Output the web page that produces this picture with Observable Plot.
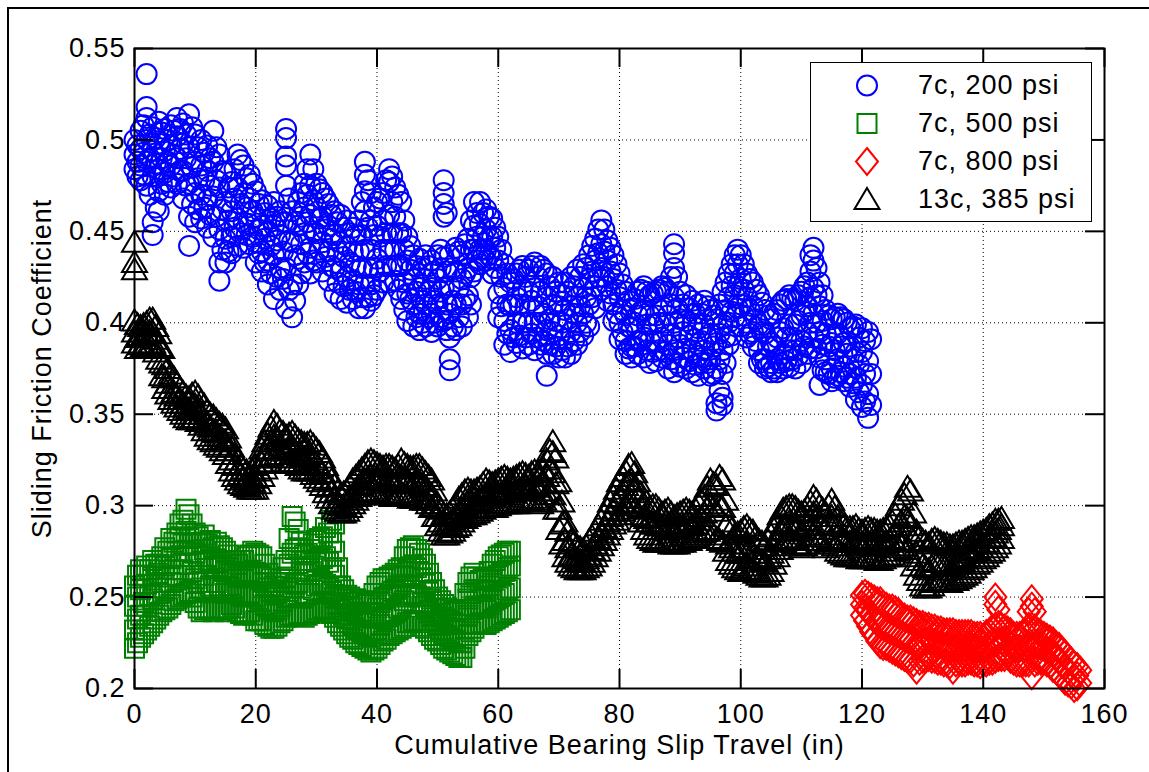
<!DOCTYPE html>
<html><head><meta charset="utf-8">
<script src="https://cdn.jsdelivr.net/npm/d3@7"></script>
<script src="https://cdn.jsdelivr.net/npm/@observablehq/plot@0.6"></script>
<style>
html,body{margin:0;padding:0;background:#fff;}
#wrap{position:relative;width:1149px;height:772px;overflow:hidden;background:#fff;}
#chart{position:absolute;left:0;top:0;}
#border{position:absolute;left:7px;top:7px;width:1300px;height:900px;border-left:2px solid #000;border-top:2px solid #000;pointer-events:none;}
#legend{position:absolute;left:810px;top:62px;border:1.5px solid #000;background:#fff;line-height:0;}
</style></head><body>
<div id="wrap"><div id="chart"></div><div id="legend"></div><div id="border"></div></div>
<script>
// ---- labels / ticks ----
const seriesNames = ["7c, 200 psi", "7c, 500 psi", "7c, 800 psi", "13c, 385 psi"];
const seriesColors = ["#0000ff", "#008000", "#ff0000", "#000000"];
const xTicks = [0, 20, 40, 60, 80, 100, 120, 140, 160];
const yTicks = [0.2, 0.25, 0.3, 0.35, 0.4, 0.45, 0.5, 0.55];
const xLabel = "Cumulative Bearing Slip Travel (in)";
const yLabel = "Sliding Friction Coefficient";

// ---- data: [slip travel, friction readings at that travel...] ----
const psi200 = [
[0,.500,.492,.484],[1,.505,.495,.486,.478],[2,.512,.536,.518,.500,.488,.475],[3,.507,.494,.480,.455,.448],
[4,.510,.498,.484,.472,.461],[5,.506,.494,.482,.470],[6,.508,.497,.486,.474],[7,.512,.502,.490,.476],
[8,.509,.498,.483,.468],[9,.514,.496,.476,.458,.442],[10,.503,.488,.471,.455],[11,.500,.486,.470,.457],
[12,.497,.483,.467,.452],[13,.505,.488,.469,.447],[14,.492,.474,.451,.433,.423],[15,.482,.466,.446,.433],
[16,.477,.461,.447,.438],[17,.492,.474,.457,.442],[18,.486,.471,.455,.441],[19,.481,.468,.454,.443],
[20,.472,.458,.444,.433],[21,.467,.453,.439,.428],[22,.464,.450,.434,.421],[23,.466,.453,.437,.413],
[24,.461,.448,.430,.418],[25,.506,.501,.491,.486,.475,.455,.430,.408],[26,.461,.444,.421,.403],[27,.466,.453,.435,.421],
[28,.476,.463,.449,.433],[29,.492,.475,.459,.441,.427],[30,.476,.463,.449,.433],[31,.471,.458,.444,.428],
[32,.465,.453,.439,.423],[33,.461,.448,.430,.416],[34,.459,.444,.428,.413],[35,.456,.442,.425,.411],
[36,.452,.439,.423,.413],[37,.456,.439,.421,.408],[38,.488,.481,.472,.461,.440,.421,.408],[39,.471,.456,.440,.421,.412],
[40,.466,.453,.435,.418],[41,.471,.456,.440,.422],[42,.484,.477,.459,.440,.422],[43,.474,.458,.440,.423],
[44,.466,.449,.431,.413],[45,.447,.434,.416,.401],[46,.437,.424,.410,.398],[47,.435,.419,.405,.396],
[48,.437,.424,.410,.398],[49,.434,.419,.405,.395],[50,.437,.424,.410,.398],[51,.478,.471,.465,.458,.436,.419,.401],
[52,.437,.420,.405,.392,.380,.374],[53,.441,.428,.410,.396],[54,.437,.424,.410,.398],[55,.446,.430,.415,.403],
[56,.466,.453,.440,.428],[57,.466,.454,.440,.432],[58,.462,.451,.440,.434],[59,.457,.447,.435,.427],
[60,.447,.434,.416,.403],[61,.432,.419,.401,.388],[62,.422,.409,.396,.384],[63,.427,.414,.400,.389],
[64,.431,.418,.400,.386],[65,.429,.417,.400,.388],[66,.433,.419,.400,.385],[67,.431,.417,.400,.388],
[68,.427,.414,.396,.383,.371],[69,.425,.410,.395,.383],[70,.422,.409,.393,.381],[71,.422,.407,.391,.381],
[72,.425,.409,.395,.383],[73,.429,.414,.400,.388],[74,.432,.419,.405,.393],[75,.437,.424,.410,.398],
[76,.446,.434,.420,.408],[77,.456,.443,.430,.418],[78,.445,.434,.420,.412],[79,.437,.424,.410,.401],
[80,.427,.414,.400,.391],[81,.417,.404,.390,.383],[82,.408,.397,.387,.381],[83,.417,.404,.390,.383],
[84,.420,.407,.392,.381],[85,.415,.404,.390,.378],[86,.417,.404,.390,.379],[87,.420,.409,.392,.381],
[88,.417,.404,.388,.375],[89,.443,.438,.430,.414,.400,.385,.373],[90,.417,.402,.388,.376],[91,.415,.401,.386,.375],
[92,.412,.399,.385,.373],[93,.410,.397,.382,.371],[94,.412,.399,.385,.375],[95,.407,.394,.380,.371],
[96,.402,.389,.375,.356,.352],[97,.417,.399,.385,.372,.359,.355],[98,.427,.414,.400,.388],[99,.437,.427,.415,.403],
[100,.437,.424,.410,.398],[101,.427,.414,.400,.392],[102,.422,.409,.395,.387],[103,.415,.399,.385,.378],
[104,.407,.394,.380,.375],[105,.402,.389,.378,.373],[106,.407,.392,.380,.373],[107,.412,.397,.383,.375],
[108,.415,.399,.385,.376],[109,.412,.399,.385,.375],[110,.417,.404,.390,.378],[111,.422,.409,.395,.383],
[112,.441,.434,.419,.405,.392],[113,.422,.409,.395,.381,.366],[114,.407,.394,.380,.373],[115,.402,.389,.375,.368],
[116,.405,.394,.380,.371],[117,.402,.389,.376,.368],[118,.397,.387,.372,.365],[119,.399,.384,.370,.358],
[120,.397,.384,.366,.354],[121,.395,.379,.361,.348]
];
const psi200mid = [
[0.5,.497,.488,.480],[1.5,.508,.493,.481],[2.5,.503,.490,.470],[3.5,.501,.487,.463],[4.5,.504,.490,.476],
[5.5,.500,.488,.477],[6.5,.505,.492,.480],[7.5,.506,.495,.483],[8.5,.503,.490,.475],[9.5,.507,.485,.465],
[10.5,.496,.479,.462],[11.5,.493,.478,.463],[12.5,.490,.475,.459],[13.5,.496,.478,.458],[14.5,.483,.462,.440],
[15.5,.474,.456,.439],[16.5,.484,.468,.452],[17.5,.489,.465,.449],[18.5,.479,.463,.448],[19.5,.476,.461,.447],
[20.5,.465,.451,.438],[21.5,.460,.446,.433],[22.5,.457,.442,.427],[23.5,.458,.445,.425],[24.5,.455,.439,.424],
[25.5,.468,.445,.418],[26.5,.455,.437,.412],[27.5,.471,.458,.443,.427],[28.5,.484,.470,.455,.438],[29.5,.484,.467,.450,.434],
[30.5,.473,.457,.440],[31.5,.468,.451,.436],[32.5,.459,.446,.431],[33.5,.455,.439,.422],[34.5,.452,.436,.420],
[35.5,.449,.433,.418],[36.5,.448,.431,.417],[37.5,.466,.448,.430,.414],[38.5,.478,.452,.430,.414],[39.5,.463,.448,.430,.415],
[40.5,.468,.447,.428],[41.5,.478,.449,.431],[42.5,.480,.466,.449,.431],[43.5,.470,.449,.432,.418],[44.5,.456,.440,.422,.407],
[45.5,.442,.429,.413],[46.5,.431,.417,.403],[47.5,.430,.412,.400],[48.5,.431,.417,.403],[49.5,.428,.412,.400],
[50.5,.440,.430,.417,.403],[51.5,.460,.428,.410,.396],[52.5,.430,.412,.398],[53.5,.439,.419,.403],[54.5,.443,.427,.413],
[55.5,.456,.440,.425,.410],[56.5,.460,.447,.434],[57.5,.460,.447,.436],[58.5,.458,.446,.437],[59.5,.452,.441,.430],
[60.5,.440,.425,.409],[61.5,.427,.410,.394],[62.5,.424,.410,.392],[63.5,.429,.410,.393],[64.5,.425,.409,.392],
[65.5,.431,.412,.394],[66.5,.425,.409,.392],[67.5,.429,.405,.390],[68.5,.420,.402,.388],[69.5,.417,.401,.387],
[70.5,.415,.400,.385],[71.5,.417,.402,.387],[72.5,.420,.405,.390],[73.5,.425,.409,.395],[74.5,.430,.414,.400],
[75.5,.442,.428,.414],[76.5,.451,.438,.425],[77.5,.451,.439,.425],[78.5,.441,.428,.416],[79.5,.432,.418,.405],
[80.5,.421,.407,.395],[81.5,.412,.398,.386],[82.5,.413,.400,.387],[83.5,.418,.406,.390],[84.5,.417,.399,.385],
[85.5,.416,.399,.384],[86.5,.418,.400,.385],[87.5,.419,.400,.384],[88.5,.425,.410,.394,.380],[89.5,.425,.408,.392,.378],
[90.5,.410,.395,.381],[91.5,.408,.393,.379],[92.5,.405,.391,.377],[93.5,.405,.390,.378],[94.5,.409,.392,.378],
[95.5,.404,.387,.372],[96.5,.410,.394,.380,.363],[97.5,.422,.407,.392,.378],[98.5,.432,.420,.406,.393],[99.5,.440,.432,.420,.408],
[100.5,.432,.418,.404],[101.5,.424,.407,.394],[102.5,.418,.402,.390],[103.5,.411,.395,.380],[104.5,.404,.387,.376],
[105.5,.405,.387,.375],[106.5,.410,.395,.378],[107.5,.413,.392,.379],[108.5,.413,.392,.380],[109.5,.415,.401,.382],
[110.5,.420,.406,.387],[111.5,.437,.428,.414,.400,.386],[112.5,.430,.415,.400,.386],[113.5,.415,.401,.388,.374],[114.5,.404,.387,.372],
[115.5,.403,.385,.370],[116.5,.403,.387,.373],[117.5,.400,.383,.370],[118.5,.398,.380,.367],[119.5,.392,.377,.362],
[120.5,.390,.372,.357],[121.5,.391,.372,.355]
];
const psi500 = [
[0,.222,.232,.245,.256],[1,.228,.240,.254,.265],[2,.232,.245,.257,.267],[3,.236,.249,.261,.270],
[4,.240,.252,.263,.268],[5,.243,.255,.267,.277],[6,.246,.258,.271,.282],[7,.249,.262,.275,.285],
[8,.251,.265,.279,.292],[9,.253,.268,.282,.295],[10,.247,.260,.274,.285],[11,.242,.255,.269,.280],
[12,.244,.258,.272,.279],[13,.242,.255,.267,.277],[14,.244,.256,.269,.278],[15,.242,.252,.264,.275],
[16,.246,.255,.264,.270],[17,.242,.252,.261,.268],[18,.240,.250,.261,.270],[19,.242,.252,.264,.273],
[20,.237,.250,.262,.274],[21,.237,.248,.261,.272],[22,.234,.245,.255,.263],[23,.233,.242,.251,.256],
[24,.236,.245,.254,.260],[25,.239,.250,.261,.270],[26,.240,.255,.274,.294],[27,.241,.258,.277,.287],
[28,.239,.252,.264,.273],[29,.241,.252,.264,.276],[30,.243,.256,.269,.281],[31,.244,.258,.271,.283],
[32,.242,.255,.269,.285],[33,.239,.250,.262,.275,.290],[34,.234,.243,.251,.256],[35,.230,.238,.247,.251],
[36,.227,.235,.244,.249],[37,.224,.232,.241,.248],[38,.222,.230,.239,.246],[39,.220,.228,.239,.248],
[40,.222,.232,.244,.256],[41,.226,.238,.249,.260],[42,.229,.240,.251,.261],[43,.231,.242,.254,.263],
[44,.233,.245,.257,.266],[45,.236,.250,.264,.276],[46,.237,.252,.267,.278],[47,.236,.250,.264,.274],
[48,.233,.245,.257,.268],[49,.229,.240,.249,.258],[50,.226,.235,.244,.250],[51,.222,.230,.239,.246],
[52,.220,.228,.237,.243],[53,.218,.226,.235,.242],[54,.217,.225,.235,.243],[55,.229,.240,.249,.258],
[56,.233,.245,.254,.263],[57,.236,.245,.254,.259],[58,.235,.244,.253,.260],[59,.237,.248,.259,.268],
[60,.239,.250,.262,.272],[61,.241,.252,.264,.274],[62,.243,.255,.267,.275]
];
const psi500mid = [
[0.5,.225,.238,.250,.262],[1.5,.230,.247,.262],[2.5,.234,.251,.265],[3.5,.238,.255,.268],[4.5,.242,.258,.272],
[5.5,.244,.261,.275],[6.5,.248,.265,.280],[7.5,.250,.268,.283,.290],[8.5,.252,.272,.286,.298],[9.5,.250,.264,.279,.290],
[10.5,.244,.258,.272,.283],[11.5,.243,.262,.276,.284],[12.5,.243,.256,.270,.281],[13.5,.243,.258,.271,.280],[14.5,.243,.254,.266,.277],
[15.5,.244,.256,.266,.273],[16.5,.244,.253,.263,.270],[17.5,.241,.251,.262,.270],[18.5,.241,.252,.263,.272],[19.5,.240,.251,.263,.275],
[20.5,.237,.249,.262,.273],[21.5,.235,.246,.258,.268],[22.5,.233,.243,.253,.260],[23.5,.234,.243,.252,.258],[24.5,.237,.248,.258,.266],
[25.5,.240,.253,.268,.282],[26.5,.240,.257,.276,.291],[27.5,.240,.255,.270,.280],[28.5,.240,.252,.264,.274],[29.5,.242,.254,.267,.279],
[30.5,.243,.257,.270,.282],[31.5,.243,.257,.272,.288],[32.5,.241,.253,.266,.280,.292],[33.5,.236,.246,.256,.266],[34.5,.232,.240,.249,.254],
[35.5,.228,.236,.245,.250],[36.5,.225,.233,.242,.249],[37.5,.223,.231,.240,.247],[38.5,.221,.229,.239,.247],[39.5,.221,.230,.241,.252],
[40.5,.224,.235,.247,.258],[41.5,.227,.239,.250,.260],[42.5,.230,.241,.253,.262],[43.5,.232,.244,.256,.265],[44.5,.234,.248,.261,.272],
[45.5,.236,.251,.266,.277],[46.5,.237,.251,.266,.276],[47.5,.234,.247,.260,.271],[48.5,.231,.242,.253,.263],[49.5,.227,.237,.246,.254],
[50.5,.224,.232,.241,.248],[51.5,.221,.229,.238,.244],[52.5,.219,.227,.236,.242],[53.5,.217,.225,.235,.243],[54.5,.222,.233,.243,.252],
[55.5,.231,.243,.252,.261],[56.5,.235,.245,.254,.261],[57.5,.235,.245,.254,.260],[58.5,.236,.246,.256,.264],[59.5,.238,.249,.261,.270],
[60.5,.240,.251,.263,.273],[61.5,.242,.254,.266,.275]
];
const psi800 = [
[120,.240,.246,.251],[121,.234,.243,.251],[122,.229,.238,.249],[123,.224,.235,.248],
[124,.223,.233,.245],[125,.221,.232,.244],[126,.219,.230,.242],[127,.217,.228,.239],
[128,.216,.227,.238],[129,.210,.223,.236],[130,.216,.225,.235],[131,.217,.227,.234],
[132,.216,.225,.233],[133,.215,.224,.232],[134,.214,.223,.231],[135,.210,.222,.231],
[136,.215,.223,.230],[137,.214,.222,.230],[138,.215,.223,.230],[139,.214,.222,.229],
[140,.214,.221,.228],[141,.215,.224,.231],[142,.216,.225,.234,.246,.250],[143,.217,.226,.234],
[144,.218,.226,.232],[145,.215,.222,.229],[146,.214,.222,.229],[147,.214,.222,.231],
[148,.207,.222,.234,.245,.249],[149,.215,.224,.231],[150,.215,.223,.229],[151,.213,.220,.227],
[152,.210,.218,.224],[153,.206,.213,.221],[154,.203,.210,.217],[155,.200,.206,.213],[156,.203,.210]
];
const psi800mid = [
[120.5,.237,.244,.252],[121.5,.231,.240,.250],[122.5,.226,.236,.248],[123.5,.223,.234,.246],[124.5,.222,.232,.244],
[125.5,.220,.231,.243],[126.5,.218,.229,.240],[127.5,.216,.227,.238],[128.5,.214,.225,.237],[129.5,.215,.224,.235],
[130.5,.216,.226,.234],[131.5,.216,.226,.233],[132.5,.215,.224,.232],[133.5,.214,.223,.231],[134.5,.213,.222,.231],
[135.5,.214,.222,.230],[136.5,.214,.222,.230],[137.5,.215,.223,.230],[138.5,.214,.222,.229],[139.5,.213,.221,.229],
[140.5,.214,.222,.230],[141.5,.215,.225,.233],[142.5,.217,.226,.235,.243],[143.5,.217,.225,.233],[144.5,.216,.224,.231],
[145.5,.214,.222,.229],[146.5,.214,.222,.230],[147.5,.214,.224,.234,.242],[148.5,.214,.224,.233,.242],[149.5,.215,.223,.230],
[150.5,.214,.221,.228],[151.5,.211,.219,.226],[152.5,.208,.216,.223],[153.5,.204,.212,.219],[154.5,.202,.208,.215],
[155.5,.201,.207,.212]
];
const psi385 = [
[0,.444,.433,.429,.401,.395,.389],[1,.398,.393,.388],[2,.400,.394,.388],[3,.402,.395,.389],
[4,.394,.387,.380],[5,.377,.370,.364],[6,.372,.364,.358],[7,.367,.360,.354],
[8,.362,.356,.350],[9,.359,.353,.347],[10,.362,.355,.348],[11,.357,.350,.344],
[12,.352,.345,.338],[13,.349,.341,.335],[14,.345,.338,.332],[15,.342,.335,.328],
[16,.332,.325,.319],[17,.325,.319,.314],[18,.320,.315,.311],[19,.317,.312,.309],
[20,.322,.315,.309],[21,.331,.323,.316],[22,.339,.331,.324],[23,.346,.338,.330],
[24,.341,.333,.326],[25,.338,.330,.323],[26,.340,.332,.324],[27,.336,.328,.322],
[28,.334,.326,.319],[29,.335,.328,.319],[30,.331,.323,.315],[31,.326,.318,.311],
[32,.318,.310,.304],[33,.311,.304,.298],[34,.306,.300,.296],[35,.308,.301,.297],
[36,.314,.306,.301],[37,.318,.311,.305],[38,.322,.314,.307],[39,.325,.316,.308],
[40,.323,.315,.307],[41,.321,.313,.306],[42,.322,.314,.306],[43,.320,.312,.305],
[44,.325,.316,.307],[45,.322,.313,.305],[46,.321,.312,.304],[47,.322,.313,.304],
[48,.318,.310,.303],[49,.314,.306,.299],[50,.301,.294,.289],[51,.295,.289,.284],
[52,.296,.290,.285],[53,.301,.294,.288],[54,.306,.298,.291],[55,.309,.301,.294],
[56,.308,.301,.295],[57,.310,.303,.297],[58,.314,.306,.299],[59,.312,.305,.299],
[60,.314,.306,.300],[61,.316,.308,.301],[62,.314,.307,.301],[63,.316,.308,.301],
[64,.318,.310,.303],[65,.316,.309,.303],[66,.319,.311,.304],[67,.316,.308,.301],
[68,.325,.316,.306],[69,.335,.329,.318,.306],[70,.313,.298,.287],[71,.291,.281,.272],
[72,.281,.273,.267],[73,.278,.271,.265],[74,.276,.269,.265],[75,.281,.273,.267],
[76,.286,.279,.272],[77,.292,.285,.278],[78,.298,.291,.284],[79,.305,.297,.290],
[80,.313,.304,.295],[81,.319,.311,.300],[82,.323,.314,.302],[83,.313,.304,.295],
[84,.301,.294,.287],[85,.299,.291,.282],[86,.300,.290,.280],[87,.296,.289,.281],
[88,.298,.289,.280],[89,.294,.287,.279],[90,.296,.289,.280],[91,.298,.290,.281],
[92,.296,.289,.282],[93,.301,.292,.284],[94,.305,.296,.286],[95,.314,.301,.287],
[96,.311,.297,.282],[97,.314,.299,.280],[98,.291,.279,.270],[99,.284,.275,.266],
[100,.286,.274,.264],[101,.289,.279,.267],[102,.286,.274,.264],[103,.281,.271,.262],
[104,.278,.269,.261],[105,.284,.274,.264],[106,.291,.282,.272],[107,.298,.289,.280],
[108,.300,.291,.282],[109,.299,.289,.279],[110,.296,.286,.277],[111,.299,.289,.279],
[112,.305,.296,.284],[113,.300,.291,.281],[114,.296,.287,.277],[115,.303,.294,.282],
[116,.294,.284,.275],[117,.289,.281,.273],[118,.288,.280,.272],[119,.289,.281,.272],
[120,.286,.279,.271],[121,.288,.280,.272],[122,.287,.279,.271],[123,.286,.278,.270],
[124,.288,.280,.272],[125,.291,.282,.273],[126,.300,.289,.277],[127,.306,.294,.280],
[128,.308,.289,.272],[129,.286,.274,.262],[130,.281,.267,.256],[131,.279,.265,.255],
[132,.282,.269,.258],[133,.280,.269,.259],[134,.279,.268,.258],[135,.278,.267,.259],
[136,.280,.269,.260],[137,.281,.271,.262],[138,.283,.274,.265],[139,.284,.276,.268],
[140,.286,.279,.271],[141,.289,.282,.274],[142,.292,.285,.277],[143,.293,.289,.282]
];
const psi385mid = [
[0.5,.399,.392,.386],[1.5,.399,.393,.387],[2.5,.402,.395,.388],[3.5,.398,.391,.384],[4.5,.386,.378,.371],
[5.5,.375,.367,.361],[6.5,.370,.362,.356],[7.5,.364,.358,.352],[8.5,.360,.354,.348],[9.5,.361,.354,.347],
[10.5,.360,.353,.346],[11.5,.355,.347,.341],[12.5,.350,.343,.336],[13.5,.347,.340,.333],[14.5,.344,.336,.330],
[15.5,.337,.330,.323],[16.5,.328,.322,.316],[17.5,.322,.317,.312],[18.5,.319,.313,.310],[19.5,.319,.313,.309],
[20.5,.326,.319,.312],[21.5,.335,.327,.320],[22.5,.343,.335,.327],[23.5,.344,.336,.328],[24.5,.340,.331,.324],
[25.5,.339,.331,.323],[26.5,.338,.330,.323],[27.5,.335,.327,.320],[28.5,.334,.327,.319],[29.5,.333,.325,.317],
[30.5,.329,.320,.313],[31.5,.322,.314,.307],[32.5,.314,.307,.301],[33.5,.308,.302,.297],[34.5,.307,.300,.296],
[35.5,.311,.304,.299],[36.5,.316,.308,.303],[37.5,.320,.312,.306],[38.5,.324,.315,.307],[39.5,.324,.316,.308],
[40.5,.322,.314,.306],[41.5,.322,.313,.306],[42.5,.321,.313,.305],[43.5,.322,.314,.306],[44.5,.323,.315,.306],
[45.5,.321,.312,.304],[46.5,.322,.313,.304],[47.5,.320,.311,.303],[48.5,.316,.308,.301],[49.5,.308,.300,.294],
[50.5,.298,.291,.286],[51.5,.295,.289,.284],[52.5,.298,.292,.286],[53.5,.304,.296,.289],[54.5,.308,.300,.293],
[55.5,.308,.301,.295],[56.5,.309,.302,.296],[57.5,.312,.305,.298],[58.5,.313,.305,.299],[59.5,.313,.306,.299],
[60.5,.315,.307,.301],[61.5,.315,.308,.301],[62.5,.315,.307,.301],[63.5,.317,.309,.302],[64.5,.317,.310,.303],
[65.5,.318,.310,.303],[66.5,.318,.310,.302],[67.5,.320,.312,.303],[68.5,.330,.320,.308],[69.5,.326,.312,.298],
[70.5,.302,.290,.279],[71.5,.286,.277,.269],[72.5,.280,.272,.266],[73.5,.277,.270,.265],[74.5,.278,.271,.266],
[75.5,.283,.276,.269],[76.5,.289,.282,.275],[77.5,.295,.288,.281],[78.5,.302,.294,.287],[79.5,.309,.301,.292],
[80.5,.316,.307,.297],[81.5,.322,.313,.301],[82.5,.318,.309,.298],[83.5,.307,.299,.291],[84.5,.302,.293,.284],
[85.5,.300,.290,.281],[86.5,.298,.289,.280],[87.5,.297,.289,.280],[88.5,.296,.288,.279],[89.5,.295,.288,.279],
[90.5,.297,.289,.280],[91.5,.297,.290,.281],[92.5,.298,.290,.283],[93.5,.303,.294,.285],[94.5,.310,.299,.286],
[95.5,.312,.299,.284],[96.5,.316,.300,.281],[97.5,.303,.289,.275],[98.5,.287,.277,.268],[99.5,.285,.274,.265],
[100.5,.288,.277,.265],[101.5,.287,.276,.265],[102.5,.283,.272,.263],[103.5,.280,.270,.261],[104.5,.281,.271,.262],
[105.5,.287,.278,.268],[106.5,.295,.286,.276],[107.5,.299,.290,.281],[108.5,.300,.290,.281],[109.5,.297,.288,.278],
[110.5,.297,.287,.278],[111.5,.302,.292,.281],[112.5,.303,.294,.283],[113.5,.298,.289,.279],[114.5,.300,.290,.280],
[115.5,.299,.289,.278],[116.5,.291,.282,.274],[117.5,.288,.280,.272],[118.5,.288,.280,.272],[119.5,.287,.280,.271],
[120.5,.287,.279,.271],[121.5,.287,.279,.271],[122.5,.286,.278,.270],[123.5,.287,.279,.271],[124.5,.289,.281,.272],
[125.5,.295,.285,.275],[126.5,.303,.291,.278],[127.5,.310,.293,.276],[128.5,.296,.281,.267],[129.5,.283,.270,.259],
[130.5,.280,.266,.255],[131.5,.281,.267,.256],[132.5,.281,.269,.258],[133.5,.279,.268,.258],[134.5,.278,.267,.258],
[135.5,.279,.268,.259],[136.5,.280,.270,.261],[137.5,.282,.272,.263],[138.5,.283,.275,.266],[139.5,.285,.277,.269],
[140.5,.287,.280,.272],[141.5,.290,.283,.275],[142.5,.292,.287,.279]
];

// ---- MATLAB-like marker shapes ----
const circleSym = {draw(c, size) { const s = Math.sqrt(size / Math.PI); c.moveTo(s, 0); c.arc(0, 0, s, 0, 2 * Math.PI); c.closePath(); }};
const squareSym = {draw(c, size) { const s = Math.sqrt(size / Math.PI) * 0.95; c.moveTo(-s, -s); c.lineTo(s, -s); c.lineTo(s, s); c.lineTo(-s, s); c.closePath(); }};
const diamondSym = {draw(c, size) { const s = Math.sqrt(size / Math.PI); c.moveTo(0, -1.35 * s); c.lineTo(1.1 * s, 0); c.lineTo(0, 1.35 * s); c.lineTo(-1.1 * s, 0); c.closePath(); }};
const triangleSym = {draw(c, size) { const s = Math.sqrt(size / Math.PI); c.moveTo(0, -1.15 * s); c.lineTo(1.25 * s, 0.95 * s); c.lineTo(-1.25 * s, 0.95 * s); c.closePath(); }};
const symbols = [circleSym, squareSym, diamondSym, triangleSym];

const flat = (...lists) => lists.flat()
  .flatMap(([x, ...ys]) => ys.map(y => ({x, y})))
  .sort((a, b) => a.x - b.x);
const seriesData = [flat(psi200, psi200mid), flat(psi500, psi500mid), flat(psi800, psi800mid), flat(psi385, psi385mid)];

const font = "'Liberation Sans', Arial, Helvetica, sans-serif";
const markR = 10, markSW = 2;

const chart = Plot.plot({
  width: 1149, height: 772,
  marginTop: 48, marginLeft: 134, marginRight: 45, marginBottom: 84,
  style: {fontFamily: font, fontSize: "27px", letterSpacing: "1px", background: "transparent", color: "#000", overflow: "visible"},
  x: {domain: [0, 160]},
  y: {domain: [0.2, 0.55]},
  marks: [
    Plot.gridX(xTicks, {stroke: "#000", strokeOpacity: 1, strokeWidth: 1, strokeDasharray: "1,3"}),
    Plot.gridY(yTicks, {stroke: "#000", strokeOpacity: 1, strokeWidth: 1, strokeDasharray: "1,3"}),
    ...seriesData.map((d, i) => Plot.dot(d, {x: "x", y: "y", symbol: symbols[i], stroke: seriesColors[i], fill: "none", r: markR, strokeWidth: markSW})),
    Plot.frame({stroke: "#000", strokeWidth: 2}),
    Plot.ruleX(xTicks, {x: d => d, insetTop: 621, stroke: "#000", strokeWidth: 2}),
    Plot.ruleX(xTicks, {x: d => d, insetBottom: 621, stroke: "#000", strokeWidth: 2}),
    Plot.ruleY(yTicks, {y: d => d, insetRight: 951, stroke: "#000", strokeWidth: 2}),
    Plot.ruleY(yTicks, {y: d => d, insetLeft: 951, stroke: "#000", strokeWidth: 2}),
    Plot.axisX({ticks: xTicks, tickSize: 0, tickPadding: 15, label: null, tickFormat: d => String(d)}),
    Plot.axisY({ticks: yTicks, tickSize: 0, tickPadding: 9, label: null, tickFormat: d => String(d)}),
    Plot.text([xLabel], {text: d => d, frameAnchor: "bottom", lineAnchor: "bottom", dy: 65, fill: "#000"}),
    Plot.text([yLabel], {text: d => d, frameAnchor: "left", rotate: -90, textAnchor: "middle", lineAnchor: "bottom", dx: -84, fill: "#000"})
  ]
});
document.getElementById("chart").appendChild(chart);

const legend = Plot.plot({
  width: 280, height: 158, margin: 0,
  style: {fontFamily: font, fontSize: "27px", letterSpacing: "1px", background: "#fff", color: "#000"},
  y: {type: "point", domain: seriesNames, range: [21.5, 136], padding: 0, axis: null},
  marks: [
    ...seriesNames.map((n, i) => Plot.dot([n], {y: d => d, frameAnchor: "left", dx: 55.5, symbol: symbols[i], stroke: seriesColors[i], fill: "none", r: markR, strokeWidth: markSW})),
    Plot.text(seriesNames, {y: d => d, text: d => d, frameAnchor: "left", dx: 106.5, textAnchor: "start", lineAnchor: "middle", fill: "#000"})
  ]
});
document.getElementById("legend").appendChild(legend);
</script>
</body></html>
